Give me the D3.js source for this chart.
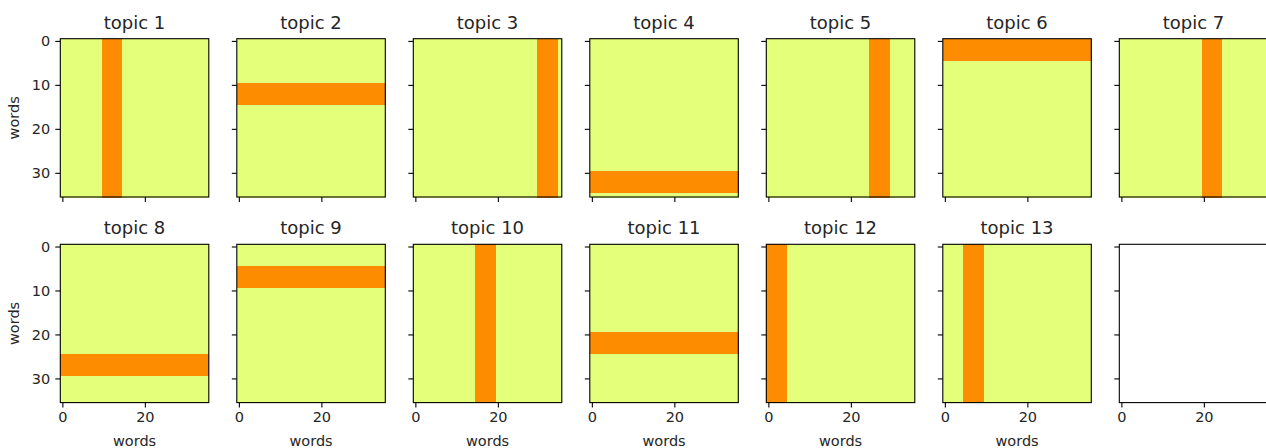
<!DOCTYPE html>
<html>
<head>
<meta charset="utf-8">
<script src="https://cdn.jsdelivr.net/npm/d3@7"></script>
<style>
  body { margin: 0; background: #fff; }
  svg text { font-family: "DejaVu Sans", sans-serif; fill: #262626; }
  .tick line { stroke: #000; }
  .domain { display: none; }
</style>
</head>
<body>
<div id="chart"></div>
<script>
// topic titles
const topics = ["topic 1", "topic 2", "topic 3", "topic 4", "topic 5", "topic 6", "topic 7",
                "topic 8", "topic 9", "topic 10", "topic 11", "topic 12", "topic 13"];
// which way each topic's band of words runs: "col" = vertical band, "row" = horizontal band
const bandAxis = ["col", "row", "col", "row", "col", "row", "col",
                  "row", "row", "col", "row", "col", "col"];
// first word index of each band
const bandStart = [10, 10, 30, 30, 25, 0, 20, 25, 5, 15, 20, 0, 5];
const bandWidth = 5;
const nWords = 36;
// cell values (colormap position) inside / outside the band
const valueIn = 0.9;
const valueOut = 0;
const xTicks = [0, 20];
const yTicks = [0, 10, 20, 30];

const W = 1266, H = 448;
const nCols = 7, nRows = 2;
const left0 = 60.3, colStep = 176.5, panelW = 148.5;
const rowTops = [38.7, 244.3], panelH = 158.3;

// matplotlib Wistia colormap
const wistia = d3.scaleLinear()
  .domain([0, 0.25, 0.5, 0.75, 1])
  .range(["#e4ff7a", "#ffe81a", "#ffbd00", "#ffa000", "#fc7f00"]);

const svg = d3.select("#chart").append("svg")
  .attr("width", W).attr("height", H);

const x = d3.scaleLinear().domain([-0.5, nWords - 0.5]).range([0, panelW]);
const y = d3.scaleLinear().domain([-0.5, nWords - 0.5]).range([0, panelH]);
const words = d3.range(nWords);

for (let k = 0; k < nCols * nRows; k++) {
  const r = Math.floor(k / nCols), c = k % nCols;
  const g = svg.append("g")
    .attr("transform", `translate(${left0 + c * colStep},${rowTops[r]})`);
  const hasData = k < topics.length;

  if (hasData) {
    const cells = [];
    words.forEach(i => words.forEach(j => {
      const idx = bandAxis[k] === "col" ? j : i;
      const inBand = idx >= bandStart[k] && idx < bandStart[k] + bandWidth;
      cells.push({ i, j, v: inBand ? valueIn : valueOut });
    }));
    g.selectAll("rect.cell").data(cells).join("rect")
      .attr("class", "cell")
      .attr("x", d => x(d.j - 0.5))
      .attr("y", d => y(d.i - 0.5))
      .attr("width", x(1) - x(0) + 0.6)
      .attr("height", y(1) - y(0) + 0.6)
      .attr("shape-rendering", "crispEdges")
      .attr("fill", d => wistia(d.v));

    g.append("text")
      .attr("x", panelW / 2).attr("y", -10)
      .attr("text-anchor", "middle")
      .style("font-size", "18px")
      .text(topics[k]);
  }

  // x axis
  const showXLabels = r === nRows - 1;
  const xa = g.append("g").attr("transform", `translate(0,${panelH})`)
    .call(d3.axisBottom(x).tickValues(xTicks).tickSize(5).tickPadding(4)
      .tickFormat(showXLabels ? d3.format("d") : () => ""));
  xa.selectAll("text").style("font-size", "14.5px").attr("fill", "#262626");

  // y axis
  const ya = g.append("g")
    .call(d3.axisLeft(y).tickValues(yTicks).tickSize(5).tickPadding(5)
      .tickFormat(c === 0 ? d3.format("d") : () => ""));
  ya.selectAll("text").style("font-size", "14.5px").attr("fill", "#262626");
  ya.selectAll(".tick line").attr("stroke-width", 1.1);
  xa.selectAll(".tick line").attr("stroke-width", 1.1);

  // frame
  g.append("rect")
    .attr("width", panelW).attr("height", panelH)
    .attr("fill", "none").attr("stroke", "#000").attr("stroke-width", 1.1);

  if (hasData && r === nRows - 1) {
    g.append("text")
      .attr("x", panelW / 2).attr("y", panelH + 43)
      .attr("text-anchor", "middle")
      .style("font-size", "14.5px")
      .text("words");
  }
  if (c === 0) {
    g.append("text")
      .attr("transform", `translate(${19 - left0},${panelH / 2}) rotate(-90)`)
      .attr("text-anchor", "middle")
      .style("font-size", "14.5px")
      .text("words");
  }
}
</script>
</body>
</html>
